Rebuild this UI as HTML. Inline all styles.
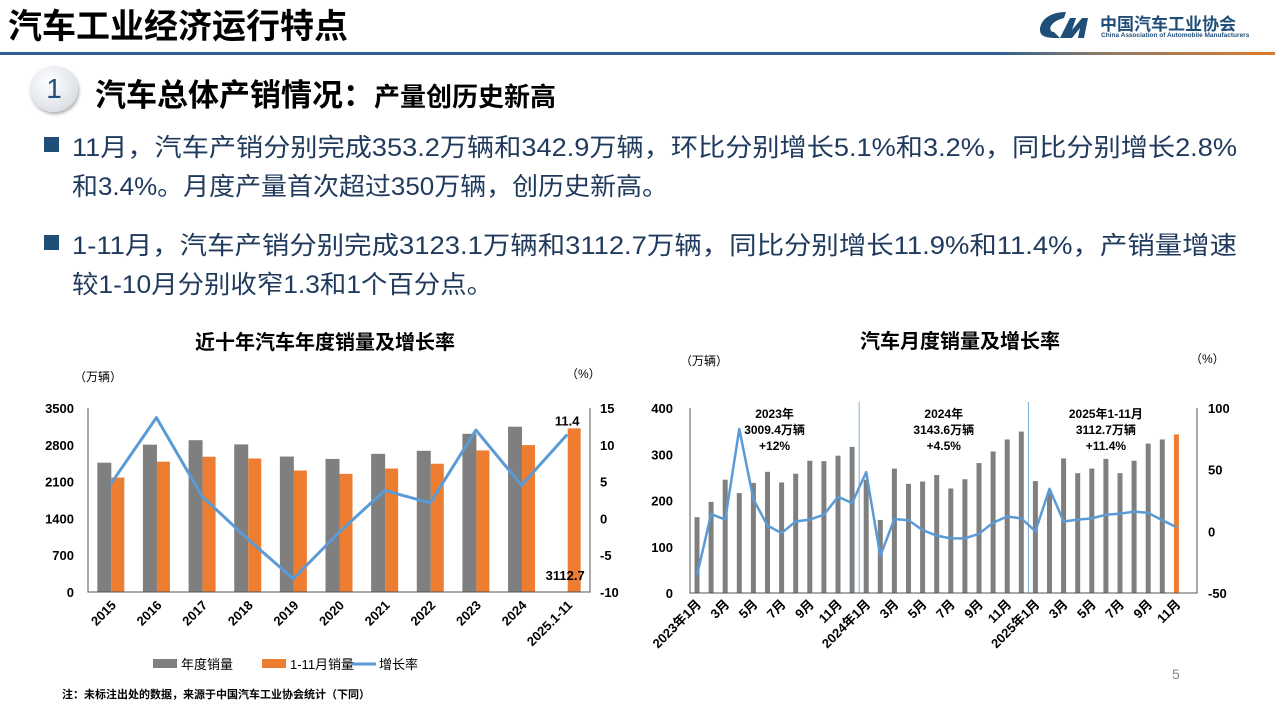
<!DOCTYPE html>
<html><head><meta charset="utf-8">
<style>
body{margin:0;width:1275px;height:708px;overflow:hidden;background:#fff;font-family:"Liberation Sans","Noto Sans CJK SC",sans-serif;position:relative}
.abs{position:absolute;white-space:nowrap}
.body-line{font-size:25px;color:#1f3a5c;left:72px;transform-origin:0 0}
.bullet{position:absolute;left:44px;width:15px;height:15px;background:#1f4e79}
</style></head><body>
<div class="abs" style="left:8px;top:-1px;font-size:34px;font-weight:bold;color:#000">汽车工业经济运行特点</div>
<div class="abs" style="left:0;top:52px;width:1275px;height:3px;background:linear-gradient(90deg,#2e5e92 0%,#2e5e92 78%,#8a7a6a 86%,#e07a2a 100%)"></div>
<div class="abs" style="left:1036px;top:8px">
 <svg width="62" height="34" viewBox="0 0 62 34"><path d="M30 4 C14 4 4 12 4 22 C4 30 14 30 24 30 L18 24 C12 24 12 14 28 10 Z" fill="#1f4e79"/><path d="M24 30 L34 10 L40 10 L36 22 L46 10 L52 10 L48 30 L42 30 L44 20 L36 30 Z" fill="#1f4e79"/></svg>
</div>
<div class="abs" style="left:1100px;top:10px;font-size:17px;font-weight:bold;color:#1f4e79">中国汽车工业协会</div>
<div class="abs" style="left:1101px;top:32px;font-size:6.5px;font-weight:bold;color:#1f4e79">China Association of Automobile Manufacturers</div>

<div class="abs" style="left:30px;top:66px;width:48px;height:46px;border-radius:50%;background:radial-gradient(circle at 40% 35%,#fff,#dde2e8 70%,#b8c0ca);box-shadow:1px 2px 3px #aaa;font-size:28px;color:#1f4e79;text-align:center;line-height:46px">1</div>
<div class="abs" style="left:95px;top:70px;font-size:31px;font-weight:bold;color:#000">汽车总体产销情况：<span style="font-size:26px">产量创历史新高</span></div>

<div class="bullet" style="top:137px"></div>
<div class="abs body-line" data-w="1165" style="top:128px">11月，汽车产销分别完成353.2万辆和342.9万辆，环比分别增长5.1%和3.2%，同比分别增长2.8%</div>
<div class="abs body-line" data-w="596" style="top:167px">和3.4%。月度产量首次超过350万辆，创历史新高。</div>
<div class="bullet" style="top:235px"></div>
<div class="abs body-line" data-w="1165" style="top:226px">1-11月，汽车产销分别完成3123.1万辆和3112.7万辆，同比分别增长11.9%和11.4%，产销量增速</div>
<div class="abs body-line" data-w="421" style="top:265px">较1-10月分别收窄1.3和1个百分点。</div>

<svg id="charts" class="abs" style="left:0;top:0" width="1275" height="708"></svg>

<div class="abs" style="left:62px;top:686px;font-size:11px;font-weight:bold;color:#000">注：未标注出处的数据，来源于中国汽车工业协会统计（下同）</div>
<div class="abs" style="left:1172px;top:666px;font-size:14px;color:#888">5</div>

<script>
document.querySelectorAll('.body-line').forEach(el=>{const w=el.getBoundingClientRect().width;el.style.transform='scaleX('+(+el.dataset.w/w)+')';});

// Left chart data
const yearCats=["2015","2016","2017","2018","2019","2020","2021","2022","2023","2024","2025.1-11"];
const annualSales=[2460,2803,2888,2808,2577,2531,2628,2686,3009,3144,null];
const ytdSales=[2177,2479,2573,2540,2311,2247,2348,2440,2693,2794,3112.7];
const annualGrowth=[4.7,13.7,3.0,-2.8,-8.2,-1.9,3.8,2.1,12.0,4.5,11.4];
const leftTicks=[0,700,1400,2100,2800,3500];
const rightTicks=[-10,-5,0,5,10,15];
// Right chart data
const monthCats=["2023年1月","2月","3月","4月","5月","6月","7月","8月","9月","10月","11月","12月","2024年1月","2月","3月","4月","5月","6月","7月","8月","9月","10月","11月","12月","2025年1月","2月","3月","4月","5月","6月","7月","8月","9月","10月","11月"];
const monthSales=[164,197,245,216,238,262,239,258,286,285,297,316,245,158,269,236,241,255,226,246,281,306,332,349,242,216,291,259,269,290,259,286,323,332,343];
const monthGrowth=[-35.7,14,9.5,83,26,4.6,-1.4,8,9.5,13.5,28,23,48,-20,10,9,1,-3.5,-5.7,-5.7,-2,7,12,10.5,0,34.5,8,9.5,10.5,13.5,14.3,16,15,9,3.4];
const mLeftTicks=[0,100,200,300,400];
const mRightTicks=[-50,0,50,100];

const svg=document.getElementById('charts');
const NS='http://www.w3.org/2000/svg';
function mk(tag,attrs,parent,text){const e=document.createElementNS(NS,tag);for(const k in attrs)e.setAttribute(k,attrs[k]);if(text!==undefined)e.textContent=text;(parent||svg).appendChild(e);return e;}
const F='"Liberation Sans","Noto Sans CJK SC",sans-serif';

// ---------- Left chart ----------
const L={x0:88,x1:590,yTop:408,yBot:592};
const ly=v=>L.yBot-(v/3500)*(L.yBot-L.yTop);
const ry=v=>L.yBot-((v+10)/25)*(L.yBot-L.yTop);
const lslot=(L.x1-L.x0)/yearCats.length;
const lx=i=>L.x0+lslot*(i+0.5);
let t=mk('text',{x:325,y:349,'text-anchor':'middle','font-size':20,'font-weight':'bold','font-family':F},svg,'近十年汽车年度销量及增长率');

t=mk('text',{x:74,y:381,'font-size':12,'font-family':F},svg,'（万辆）');

t=mk('text',{x:566,y:378,'font-size':12,'font-family':F},svg,'（%）');

leftTicks.forEach(v=>{const e=mk('text',{x:74,y:ly(v)+5,'text-anchor':'end','font-size':13,'font-weight':'bold','font-family':F},svg,String(v));
});
rightTicks.forEach(v=>{const e=mk('text',{x:600,y:ry(v)+5,'font-size':13,'font-weight':'bold','font-family':F},svg,String(v));
});
yearCats.forEach((c,i)=>{
 const cx=lx(i);
 if(annualSales[i]!=null){const b=mk('rect',{x:cx-13.5,y:ly(annualSales[i]),width:14,height:L.yBot-ly(annualSales[i]),fill:'#7f7f7f'});
 }
 const o=mk('rect',{x:cx+0.5,y:ly(ytdSales[i]),width:13,height:L.yBot-ly(ytdSales[i]),fill:'#ed7d31'});
 
 const lab=mk('text',{x:0,y:0,'text-anchor':'end','font-size':13,'font-weight':'bold','font-family':F,transform:`translate(${cx+6},${L.yBot+14}) rotate(-45)`},svg,c);
 
});
let ax=mk('path',{d:`M${L.x0} ${L.yTop}V${L.yBot}H${L.x1}V${L.yTop}`,stroke:'#555',fill:'none','stroke-width':1});

let pl=mk('polyline',{points:annualGrowth.map((v,i)=>lx(i)+','+ry(v)).join(' '),fill:'none',stroke:'#5b9bd5','stroke-width':3,'stroke-linejoin':'round'});

t=mk('text',{x:lx(10),y:ry(annualGrowth[10])-9,'text-anchor':'middle','font-size':13,'font-weight':'bold','font-family':F},svg,String(annualGrowth[10]));

t=mk('text',{x:lx(10)-2,y:L.yBot-12,'text-anchor':'middle','font-size':13,'font-weight':'bold','font-family':F},svg,String(ytdSales[10]));

// legend
let lg=mk('rect',{x:153,y:659,width:24,height:9,fill:'#7f7f7f'});
t=mk('text',{x:181,y:669,'font-size':13,'font-family':F},svg,'年度销量');
lg=mk('rect',{x:262,y:659,width:24,height:9,fill:'#ed7d31'});
t=mk('text',{x:290,y:669,'font-size':13,'font-family':F},svg,'1-11月销量');
lg=mk('line',{x1:351,y1:664,x2:376,y2:664,stroke:'#5b9bd5','stroke-width':3});
t=mk('text',{x:379,y:669,'font-size':13,'font-family':F},svg,'增长率');

// ---------- Right chart ----------
const R={x0:690,xAxisR:1197,yTop:408,yBot:593};
const mslot=14.1;
const mx=i=>R.x0+7+mslot*i;
const my=v=>R.yBot-(v/400)*(R.yBot-R.yTop);
const mry=v=>R.yBot-((v+50)/150)*(R.yBot-R.yTop);
t=mk('text',{x:960,y:348,'text-anchor':'middle','font-size':20,'font-weight':'bold','font-family':F},svg,'汽车月度销量及增长率');

t=mk('text',{x:680,y:365,'font-size':12,'font-family':F},svg,'（万辆）');

t=mk('text',{x:1190,y:363,'font-size':12,'font-family':F},svg,'（%）');

mLeftTicks.forEach(v=>{const e=mk('text',{x:673,y:my(v)+5,'text-anchor':'end','font-size':13,'font-weight':'bold','font-family':F},svg,String(v));
});
mRightTicks.forEach(v=>{const e=mk('text',{x:1208,y:mry(v)+5,'font-size':13,'font-weight':'bold','font-family':F},svg,String(v));
});
monthCats.forEach((c,i)=>{
 const cx=mx(i);const last=i===monthCats.length-1;
 const b=mk('rect',{x:cx-2.5,y:my(monthSales[i]),width:5,height:R.yBot-my(monthSales[i]),fill:last?'#ed7d31':'#7f7f7f'});
 
 if(i%2===0){const lab=mk('text',{x:0,y:0,'text-anchor':'end','font-size':13,'font-weight':'bold','font-family':F,transform:`translate(${cx+5},${R.yBot+12}) rotate(-45)`},svg,c);
 }
});
[11.5,23.5].forEach(p=>{const s=mk('line',{x1:mx(p),y1:R.yTop-6,x2:mx(p),y2:R.yBot,stroke:'#5b9bd5','stroke-width':0.8});
});
ax=mk('path',{d:`M${R.x0} ${R.yTop}V${R.yBot}H${R.xAxisR}V${R.yTop}`,stroke:'#555',fill:'none','stroke-width':1});

pl=mk('polyline',{points:monthGrowth.map((v,i)=>mx(i)+','+mry(v)).join(' '),fill:'none',stroke:'#5b9bd5','stroke-width':2.5,'stroke-linejoin':'round'});

const notes=[[mx(5.5),['2023年','3009.4万辆','+12%']],[mx(17.5),['2024年','3143.6万辆','+4.5%']],[mx(29),['2025年1-11月','3112.7万辆','+11.4%']]];
notes.forEach((n,k)=>{n[1].forEach((s,j)=>{const e=mk('text',{x:n[0],y:418+j*16,'text-anchor':'middle','font-size':12,'font-weight':'bold','font-family':F},svg,s);
});});
</script>
</body></html>
